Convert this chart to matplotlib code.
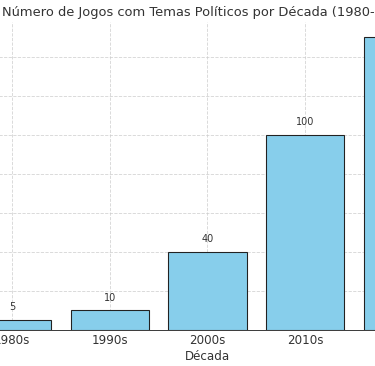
import matplotlib
matplotlib.use("Agg")
import matplotlib.pyplot as plt

decades = ["1980s", "1990s", "2000s", "2010s", "2020s"]
jogos = [5, 10, 40, 100, 150]

DPI = 78
fig = plt.figure(figsize=(375 / DPI, 366 / DPI), dpi=DPI)
# the reference is a crop of a wider chart: the axes run past both figure edges
ax = fig.add_axes([-50.5 / 375, 36 / 366, 516 / 375, 307.6 / 366])

ax.bar(decades, jogos, width=0.8, color="skyblue", edgecolor="#222222", linewidth=1.0, zorder=3)
for i, v in enumerate(jogos):
    ax.text(i, v + 4, str(v), ha="center", va="bottom", fontsize=9, color="#333333", zorder=4)

ax.set_title("Número de Jogos com Temas Políticos por Década (1980-2023)", fontsize=12, color="#333333")
ax.set_xlabel("Década", fontsize=11, color="#333333", labelpad=3)
ax.set_ylabel("Número de Jogos", fontsize=11, color="#333333")
ax.set_ylim(0, 157.5)
ax.set_yticks(range(0, 160, 20))
ax.tick_params(colors="#333333", labelsize=11, length=0)
ax.grid(True, linestyle="--", color="#cccccc", linewidth=0.8, alpha=0.8, zorder=0)
for s in ("top", "right"):
    ax.spines[s].set_visible(False)
ax.spines["bottom"].set_color("#222222")

fig.savefig("out.png", dpi=DPI)
